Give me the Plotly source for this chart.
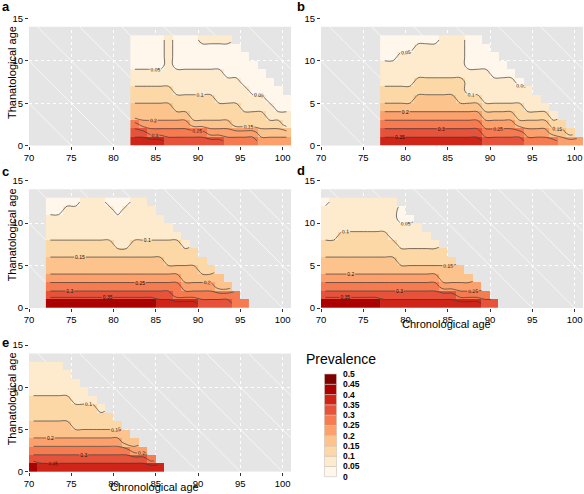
import plotly.graph_objects as go

W, H = 584, 494
FONT = "Liberation Sans, Arial, Helvetica, sans-serif"

# ---------------- data ----------------
BIN_WIDTH = 0.05          # prevalence class width
N_ROWS = 13               # thanatological age rows 0..12
X_RANGE = [70, 101]
Y_RANGE = [0, 15]
X_TICKS = [70, 75, 80, 85, 90, 95, 100]
Y_TICKS = [0, 5, 10, 15]
BG_TOP = 14
LEXIS_SUMS = [75, 80, 85, 90, 95, 100, 105, 110]
CONTOUR_LEVELS = dict(start=0.05, end=0.45, size=0.05)

COLORS = ["#FFF7EC", "#FEEACC", "#FDD8A7", "#FDC38D", "#FCA16C",
          "#F67B51", "#E7533A", "#CF2518", "#AD0000", "#7F0000"]
LEGEND_LABELS = ["0", "0.05", "0.1", "0.15", "0.2", "0.25",
                 "0.3", "0.35", "0.4", "0.45", "0.5"]

# prevalence class (0..9 -> 0-0.05 ... 0.45-0.5) per 1-year cell,
# one string per chronological-age column, thanatological age 0 first
A_X0 = 82
A_COLS = ["7653322110000", "7643322110000", "7543322110000", "7543322110000",
          "6543322111111", "6543221110000", "6543221110000", "6532221110000",
          "6532221110001", "6432221110001", "6432211110001", "5432211100001",
          "542221110000", "54221110000", "5422110000", "432211000",
          "43211000", "4321000", "431100"]

B_X0 = 77
B_COLS = ["7654322111000", "7654322111000", "7654322111100", "7654322111100",
          "7654332211110", "7654332211110", "7654332211110", "7654332211111",
          "7654332211111", "7654322211111", "7654321110000", "7654321110000",
          "654321111000", "65432111000", "6543211100", "654321110",
          "65322110", "5432111", "543211", "54321", "5321", "432", "42", "4"]

C_X0 = 72
C_COLS = ["8654332211100", "8654332211100", "8654332211110", "8654332211110",
          "8654332211111", "8654332211111", "8654332211111", "8654332211110",
          "8654332111100", "8654332111110", "8654332211111", "8654332211111",
          "865433221111", "76543322111", "7654322211", "755432221",
          "75433221", "7543322", "654322", "65432", "6533", "653", "55", "5"]

D_X0 = 70
D_COLS = ["8654332211110", "8654332211111", "8654332221111", "8654332221111",
          "8654332221111", "8654332221111", "8654332221111", "7654332221111",
          "7654332211111", "765432211100", "76543221110", "7654322111",
          "765432211", "76543221", "7643322", "764332", "75433", "7543",
          "754", "65", "6"]

E_X0 = 70
E_COLS = ["8654332221111", "7654332221111", "7654332221111", "7654332221111",
          "765433222111", "76543222111", "7654322211", "765432221",
          "76543221", "7654322", "765432", "76533", "7643", "764", "75", "7"]

PANELS = [
    # letter, x0, cols, x-domain px, y-domain px (bottom, top), letter pos px
    ("a", A_X0, A_COLS, (29, 291), (145.7, 18.3), (0, 7), True, False),
    ("b", B_X0, B_COLS, (321, 583), (145.7, 18.3), (295, 6.5), False, False),
    ("c", C_X0, C_COLS, (29, 291), (308.0, 180.7), (0, 171), True, False),
    ("d", D_X0, D_COLS, (321, 583), (308.0, 180.7), (295, 170), False, True),
    ("e", E_X0, E_COLS, (29, 291), (471.7, 345.0), (0, 342.5), True, True),
]


def build_grid(x0, cols):
    xs = [x0 + i + 0.5 for i in range(len(cols))]
    ys = [r + 0.5 for r in range(N_ROWS)]
    z = [[(int(col[r]) + 0.5) * BIN_WIDTH if r < len(col) else None
          for col in cols] for r in range(N_ROWS)]
    return xs, ys, z


colorscale = []
for i, c in enumerate(COLORS):
    colorscale.append([i / len(COLORS), c])
    colorscale.append([(i + 1) / len(COLORS), c])

fig = go.Figure()
shapes = []
annotations = []
layout_axes = {}

for k, (letter, x0, cols, xd, yd, lpos, ytitle, xtitle) in enumerate(PANELS, start=1):
    xa = "x" if k == 1 else f"x{k}"
    ya = "y" if k == 1 else f"y{k}"
    xs, ys, z = build_grid(x0, cols)
    fig.add_trace(go.Heatmap(x=xs, y=ys, z=z, zmin=0, zmax=len(COLORS) * BIN_WIDTH,
                             colorscale=colorscale, showscale=False,
                             hoverinfo="skip", xaxis=xa, yaxis=ya))
    fig.add_trace(go.Contour(x=xs, y=ys, z=z, connectgaps=False, showscale=False,
                             contours=dict(**CONTOUR_LEVELS, coloring="none",
                                           showlabels=True,
                                           labelfont=dict(size=5, color="#111", family=FONT),
                                           labelformat=".2~f"),
                             line=dict(color="#3c3c3c", width=0.7, smoothing=1.1),
                             hoverinfo="skip", xaxis=xa, yaxis=ya))

    # grey Lexis background and lifespan diagonals
    shapes.append(dict(type="rect", xref=xa, yref=ya, x0=X_RANGE[0], x1=X_RANGE[1],
                       y0=0, y1=BG_TOP, fillcolor="#E5E5E5", line=dict(width=0),
                       layer="below"))
    for s in LEXIS_SUMS:
        xa0 = max(X_RANGE[0], s - BG_TOP)
        xa1 = min(X_RANGE[1], s)
        if xa1 > xa0:
            shapes.append(dict(type="line", xref=xa, yref=ya, x0=xa0, y0=s - xa0,
                               x1=xa1, y1=s - xa1, line=dict(color="white", width=0.7),
                               layer="below"))

    axis_common = dict(ticks="outside", ticklen=3, tickwidth=0.8, tickcolor="#333",
                       tickfont=dict(size=9.5, color="black", family=FONT),
                       showgrid=True, gridcolor="white", griddash="dot", gridwidth=0.7,
                       zeroline=False, showline=False)
    layout_axes["xaxis" if k == 1 else f"xaxis{k}"] = dict(
        domain=[xd[0] / W, xd[1] / W], range=X_RANGE, tickvals=X_TICKS,
        anchor=ya, **axis_common)
    layout_axes["yaxis" if k == 1 else f"yaxis{k}"] = dict(
        domain=[1 - yd[0] / H, 1 - yd[1] / H], range=Y_RANGE, tickvals=Y_TICKS,
        anchor=xa, **axis_common)

    annotations.append(dict(text=f"<b>{letter}</b>", xref="paper", yref="paper",
                            x=lpos[0] / W, y=1 - lpos[1] / H, xanchor="left",
                            yanchor="middle", showarrow=False,
                            font=dict(size=13, color="black", family=FONT)))
    ymid = (yd[0] + yd[1]) / 2 - 9
    if ytitle:
        annotations.append(dict(text="Thanatological age", xref="paper", yref="paper",
                                x=12 / W, y=1 - ymid / H, textangle=-90,
                                xanchor="center", yanchor="middle", showarrow=False,
                                font=dict(size=11, color="black", family=FONT)))
    if xtitle:
        annotations.append(dict(text="Chronological age", xref="paper", yref="paper",
                                x=(xd[0] + xd[1]) / 2 / W - 0.01, y=1 - (yd[0] + 15.5) / H,
                                xanchor="center", yanchor="middle", showarrow=False,
                                font=dict(size=11, color="black", family=FONT)))

# ---------------- legend (colour key) ----------------
KEY_LEFT, KEY_RIGHT = 324.5, 336.5
KEY_BOTTOM, KEY_STEP = 476.7, 10.27
for i, c in enumerate(COLORS):
    yb = KEY_BOTTOM - i * KEY_STEP
    shapes.append(dict(type="rect", xref="paper", yref="paper",
                       x0=KEY_LEFT / W, x1=KEY_RIGHT / W,
                       y0=1 - yb / H, y1=1 - (yb - KEY_STEP) / H,
                       fillcolor=c, line=dict(color="#c9c2bb", width=0.6)))
for i, lab in enumerate(LEGEND_LABELS):
    yb = KEY_BOTTOM - i * KEY_STEP
    annotations.append(dict(text=f"<b>{lab}</b>", xref="paper", yref="paper",
                            x=340.5 / W, y=1 - yb / H, xanchor="left", yanchor="middle",
                            showarrow=False,
                            font=dict(size=8.5, color="black", family=FONT)))
annotations.append(dict(text="Prevalence", xref="paper", yref="paper",
                        x=304.5 / W, y=1 - 359 / H, xanchor="left", yanchor="middle",
                        showarrow=False, font=dict(size=14, color="black", family=FONT)))

fig.update_layout(width=W, height=H, margin=dict(l=0, r=0, t=0, b=0),
                  template="none", plot_bgcolor="white", paper_bgcolor="white",
                  showlegend=False, shapes=shapes, annotations=annotations,
                  font=dict(family=FONT), **layout_axes)

fig.write_html("out.html", config={"displayModeBar": False},
               post_script="document.body.style.margin='0px';"
                           "document.body.style.overflow='hidden';")
